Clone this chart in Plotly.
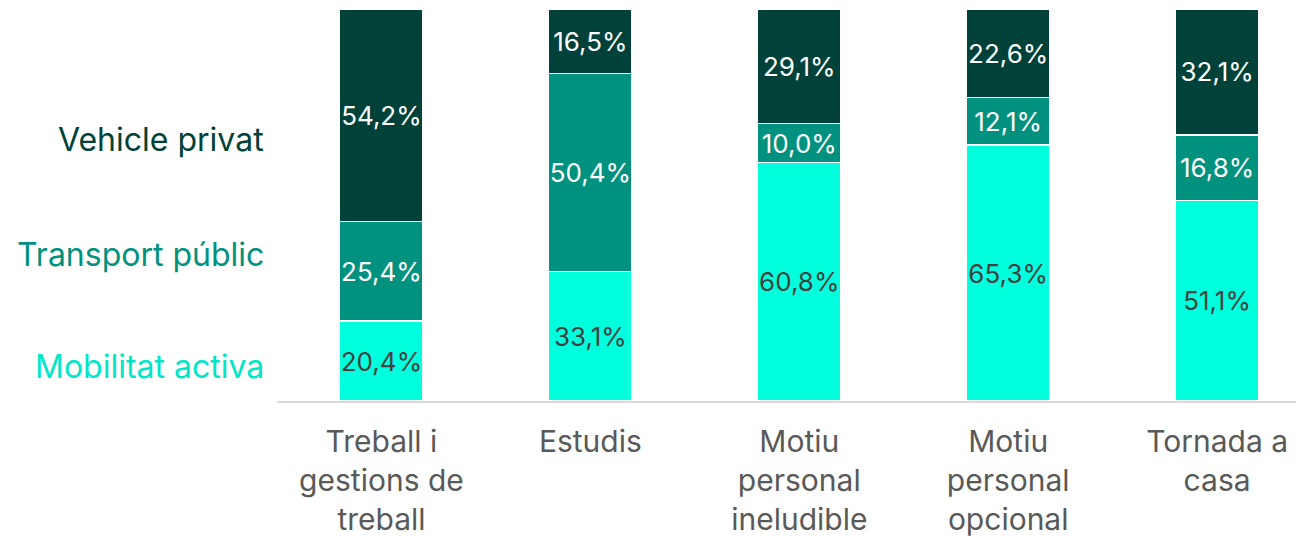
import plotly.graph_objects as go

categories = ["Treball i<br>gestions de<br>treball", "Estudis", "Motiu<br>personal<br>ineludible",
              "Motiu<br>personal<br>opcional", "Tornada a<br>casa"]
mobilitat_activa = [20.4, 33.1, 60.8, 65.3, 51.1]
transport_public = [25.4, 50.4, 10.0, 12.1, 16.8]
vehicle_privat = [54.2, 16.5, 29.1, 22.6, 32.1]
series_names = ["Mobilitat activa", "Transport públic", "Vehicle privat"]

colors = ["#00FFDD", "#00917F", "#00423A"]
legend_colors = ["#00E6C8", "#00917F", "#00423A"]
text_colors = ["#404040", "#FFFFFF", "#FFFFFF"]
FONT = "Inter"

def fmt(v):
    return f"{v:.1f}".replace(".", ",") + "%"

fig = go.Figure()
for name, vals, c, tc in zip(series_names, [mobilitat_activa, transport_public, vehicle_privat], colors, text_colors):
    fig.add_trace(go.Bar(
        x=categories, y=vals, name=name,
        marker=dict(color=c, line=dict(color="white", width=1.5)),
        text=[fmt(v) for v in vals], textposition="inside", insidetextanchor="middle",
        textangle=0,
        textfont=dict(color=tc, size=26, family=FONT),
        width=0.4, showlegend=False, hoverinfo="skip",
    ))

legend_y = [0.087, 0.373, 0.667]
for name, c, y in zip(series_names, legend_colors, legend_y):
    fig.add_annotation(text=name, xref="paper", yref="paper", x=-0.011, y=y,
                       xanchor="right", yanchor="middle", showarrow=False,
                       font=dict(color=c, size=32, family=FONT))

fig.update_layout(
    barmode="stack", width=1296, height=528,
    margin=dict(l=269, r=0, t=1, b=135),
    paper_bgcolor="white", plot_bgcolor="white",
    uniformtext=dict(minsize=26, mode="show"),
    xaxis=dict(range=[-0.5, 4.416], showline=True, linecolor="#D9D9D9", linewidth=2,
               ticks="", showgrid=False, ticklabelstandoff=13,
               tickfont=dict(size=30, color="#595959", family=FONT)),
    yaxis=dict(range=[0, 100], visible=False),
)
fig.write_html("out.html")
